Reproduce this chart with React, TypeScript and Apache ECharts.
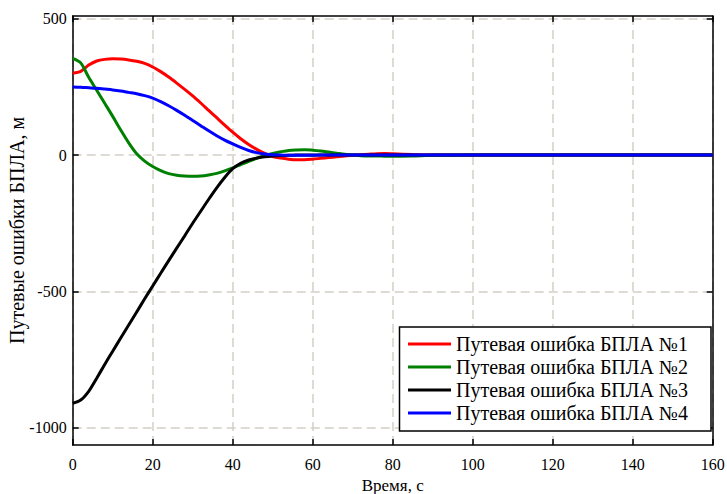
import React, { useEffect, useRef } from "react";
import * as echarts from "echarts";

const TIME = [0, 2, 4, 6, 8, 10, 12, 14, 16, 18, 20, 22, 24, 26, 28, 30, 32, 34, 36, 38, 40, 42, 44, 46, 48, 50, 52, 54, 56, 58, 60, 62, 64, 66, 68, 70, 72, 74, 76, 78, 80, 85, 90, 100, 120, 140, 160];

const ERR_1 = [300, 307, 330, 345, 351, 353, 352, 349, 344, 336, 323, 306, 286, 264, 241, 217, 191, 164, 137, 110, 84, 60, 39, 21, 6, -5, -11, -15, -17, -17, -15, -12, -9, -6, -3, -1, 1, 3, 5, 6, 5, 2, 0, 0, 0, 0, 0];
const ERR_2 = [355, 338, 285, 238, 190, 142, 92, 45, 5, -22, -42, -57, -68, -74, -77, -78, -77, -73, -67, -58, -47, -35, -23, -12, -2, 6, 12, 17, 19, 20, 18, 15, 11, 7, 3, 0, -2, -3, -3, -4, -4, -3, -1, 0, 0, 0, 0];
const ERR_3 = [-910, -898, -866, -818, -768, -719, -671, -623, -575, -527, -480, -433, -387, -341, -296, -250, -206, -162, -120, -82, -50, -30, -18, -11, -6, -3, -1.5, -1, 0, 0, 0, 0, 0, 0, 0, 0, 0, 0, 0, 0, 0, 0, 0, 0, 0, 0, 0];
const ERR_4 = [250, 249, 247, 245, 242, 239, 235, 230, 225, 218, 209, 196, 181, 164, 146, 127, 108, 89, 71, 55, 41, 28, 17, 9, 4, 1, 0, -1, -1, -1, -1, 0, 0, 0, 0, 0, 0, 0, 0, 0, 0, 0, 0, 0, 0, 0, 0];

const SERIES_NAMES = [
  "Путевая ошибка БПЛА №1",
  "Путевая ошибка БПЛА №2",
  "Путевая ошибка БПЛА №3",
  "Путевая ошибка БПЛА №4",
];
const SERIES_COLORS = ["#ff0000", "#008000", "#000000", "#0000ff"];
const SERIES_VALUES = [ERR_1, ERR_2, ERR_3, ERR_4];

const Y_TICKS = [-1000, -500, 0, 500];
const X_NAME = "Время, с";
const Y_NAME = "Путевые ошибки БПЛА, м";

const FONT = "Liberation Serif";

export default function App() {
  const ref = useRef<HTMLDivElement>(null);

  useEffect(() => {
    document.body.style.margin = "0";
    if (!ref.current) return;
    const chart = echarts.init(ref.current, null, { renderer: "svg" });

    const axisLine = { show: true, onZero: false, lineStyle: { color: "#000", width: 1.5 } };
    const tick = { show: true, inside: true, length: 6, lineStyle: { color: "#000", width: 1.5 } };
    const split = { show: true, lineStyle: { color: "#d3cfc7", type: [9, 5], width: 1.5 } };

    chart.setOption({
      animation: false,
      backgroundColor: "#fff",
      textStyle: { fontFamily: FONT, color: "#000" },
      grid: {
        left: 72.7,
        right: 14.3,
        top: 16,
        bottom: 49,
        containLabel: false,
        outerBoundsMode: "none",
      },
      xAxis: [
        {
          type: "value",
          min: 0,
          max: 160,
          interval: 20,
          position: "bottom",
          axisLine,
          axisTick: tick,
          axisLabel: { color: "#000", fontSize: 16, fontFamily: FONT, margin: 11 },
          splitLine: split,
          name: X_NAME,
          nameLocation: "middle",
          nameGap: 30,
          nameTextStyle: { color: "#000", fontSize: 17, fontFamily: FONT },
        },
        {
          type: "value",
          min: 0,
          max: 160,
          interval: 20,
          position: "top",
          axisLine,
          axisTick: tick,
          axisLabel: { show: false },
          splitLine: { show: false },
        },
      ],
      yAxis: [
        {
          type: "value",
          min: -1063,
          max: 510,
          position: "left",
          axisLine,
          axisTick: { ...tick, customValues: Y_TICKS },
          axisLabel: {
            color: "#000",
            fontSize: 16,
            fontFamily: FONT,
            margin: 6,
            customValues: Y_TICKS,
            formatter: (v: number) => String(v),
          },
          splitLine: split,
          name: Y_NAME,
          nameLocation: "middle",
          nameRotate: 90,
          nameGap: 46,
          nameMoveOverlap: false,
          nameTextStyle: { color: "#000", fontSize: 20, fontFamily: FONT },
        },
        {
          type: "value",
          min: -1063,
          max: 510,
          position: "right",
          axisLine,
          axisTick: { ...tick, customValues: Y_TICKS },
          axisLabel: { show: false, customValues: Y_TICKS },
          splitLine: { show: false },
        },
      ],
      graphic: [
        {
          type: "rect",
          z: 3,
          shape: { x: 399.5, y: 327, width: 311.5, height: 104 },
          style: { fill: "#fff", stroke: "#000", lineWidth: 1.5 },
        },
      ],
      legend: {
        data: SERIES_NAMES,
        orient: "vertical",
        left: 400,
        top: 327,
        z: 5,
        itemWidth: 43,
        itemHeight: 3,
        icon: "rect",
        itemGap: 3,
        padding: [7, 0, 0, 8],
        textStyle: { color: "#000", fontSize: 20, lineHeight: 20, fontFamily: FONT },
      },
      series: SERIES_VALUES.map((vals, i) => ({
        name: SERIES_NAMES[i],
        type: "line",
        xAxisIndex: 0,
        yAxisIndex: 0,
        data: TIME.map((t, j) => [t, vals[j]]),
        showSymbol: false,
        symbol: "none",
        smooth: 0.3,
        color: SERIES_COLORS[i],
        lineStyle: { color: SERIES_COLORS[i], width: 3 },
      })),
    });

    return () => chart.dispose();
  }, []);

  return <div ref={ref} style={{ width: 727, height: 494 }} />;
}
